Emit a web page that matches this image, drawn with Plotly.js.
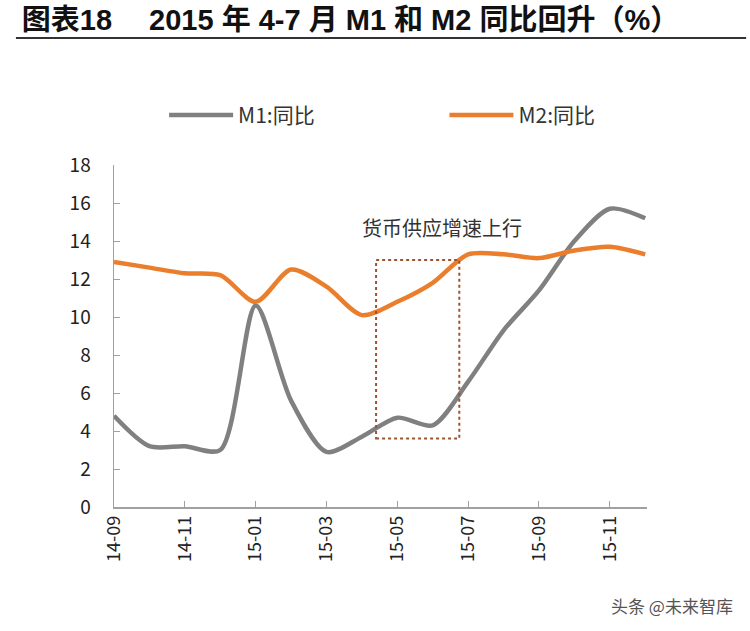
<!DOCTYPE html>
<html>
<head>
<meta charset="utf-8">
<script src="https://cdn.plot.ly/plotly-3.0.1.min.js"></script>
<style>
  html, body { margin: 0; padding: 0; background: #fff; }
  #chart { width: 750px; height: 631px; }
</style>
</head>
<body>
<div id="chart"></div>
<script>
// months on the x axis
const months = ['14-09', '14-10', '14-11', '14-12', '15-01', '15-02', '15-03', '15-04',
                '15-05', '15-06', '15-07', '15-08', '15-09', '15-10', '15-11', '15-12'];
const tickMonths = ['14-09', '14-11', '15-01', '15-03', '15-05', '15-07', '15-09', '15-11'];

// year-on-year growth, %
const m1 = [4.8, 3.2, 3.2, 3.0, 10.6, 5.6, 2.9, 3.7, 4.7, 4.3, 6.6, 9.3, 11.4, 14.0, 15.7, 15.2];
const m2 = [12.9, 12.6, 12.3, 12.2, 10.8, 12.5, 11.6, 10.1, 10.8, 11.8, 13.3, 13.3, 13.1, 13.5, 13.7, 13.3];

// highlighted window (month index) and its label
const boxRange = [7.4, 9.75];
const boxValues = [3.6, 13.0];
const boxLabel = '货币供应增速上行';

const font = '"Noto Sans CJK SC", "Noto Sans", sans-serif';
const titleFont = '"Liberation Sans", "Noto Sans CJK SC", sans-serif';

const traces = [
    {
        x: months,
        y: m1,
        name: 'M1:同比',
        type: 'scatter',
        mode: 'lines',
        legend: 'legend',
        line: { color: '#808080', width: 4.5, shape: 'spline', smoothing: 0.8 }
    },
    {
        x: months,
        y: m2,
        name: 'M2:同比',
        type: 'scatter',
        mode: 'lines',
        legend: 'legend2',
        line: { color: '#eb7e2c', width: 4.5, shape: 'spline', smoothing: 0.8 }
    }
];

const legendStyle = {
    orientation: 'h',
    y: 1.145,
    xanchor: 'left',
    yanchor: 'middle',
    itemwidth: 64,
    font: { size: 21, color: '#333' },
    bgcolor: 'rgba(0,0,0,0)'
};

const layout = {
    width: 750,
    height: 631,
    paper_bgcolor: '#ffffff',
    plot_bgcolor: '#ffffff',
    font: { family: font, color: '#222' },
    margin: { l: 114, r: 103, t: 165, b: 124 },
    title: {
        text: '<b>图表18　 2015 年 4-7 月 M1 和 M2 同比回升（%）</b>',
        x: 0.029,
        xanchor: 'left',
        y: 0.968,
        yanchor: 'middle',
        font: { size: 29, color: '#111', family: titleFont }
    },
    showlegend: true,
    legend: Object.assign({}, legendStyle, { x: 0.094 }),
    legend2: Object.assign({}, legendStyle, { x: 0.62 }),
    xaxis: {
        type: 'category',
        categoryorder: 'array',
        categoryarray: months,
        range: [0, 15.05],
        tickvals: tickMonths,
        ticktext: tickMonths,
        tickangle: -90,
        ticks: 'inside',
        ticklen: 6,
        tickcolor: '#a0a0a0',
        showline: true,
        linecolor: '#a0a0a0',
        linewidth: 1.5,
        showgrid: false,
        zeroline: false,
        tickfont: { size: 18, color: '#222' }
    },
    yaxis: {
        range: [0, 18],
        dtick: 2,
        ticks: 'inside',
        ticklen: 6,
        tickcolor: '#a0a0a0',
        showline: true,
        linecolor: '#a0a0a0',
        linewidth: 1.5,
        showgrid: false,
        zeroline: false,
        ticklabelstandoff: 18,
        tickfont: { size: 19, color: '#222' }
    },
    shapes: [
        {
            type: 'rect',
            xref: 'x', yref: 'y',
            x0: boxRange[0], x1: boxRange[1],
            y0: boxValues[0], y1: boxValues[1],
            line: { color: '#a0522d', width: 2, dash: 'dot' }
        },
        {
            type: 'line',
            xref: 'paper', yref: 'paper',
            x0: -0.184, x1: 1.186,
            y0: 1.371, y1: 1.371,
            line: { color: '#333', width: 2 }
        }
    ],
    annotations: [
        {
            text: boxLabel,
            xref: 'x', yref: 'y',
            x: 9.27, y: 14.7,
            showarrow: false,
            font: { size: 20, color: '#333' }
        },
        {
            text: '头条 @未来智库',
            xref: 'paper', yref: 'paper',
            x: 1.165, y: -0.287,
            xanchor: 'right', yanchor: 'middle',
            showarrow: false,
            font: { size: 17, color: '#555' }
        }
    ]
};

Plotly.newPlot('chart', traces, layout, { displayModeBar: false, staticPlot: true });
</script>
</body>
</html>
